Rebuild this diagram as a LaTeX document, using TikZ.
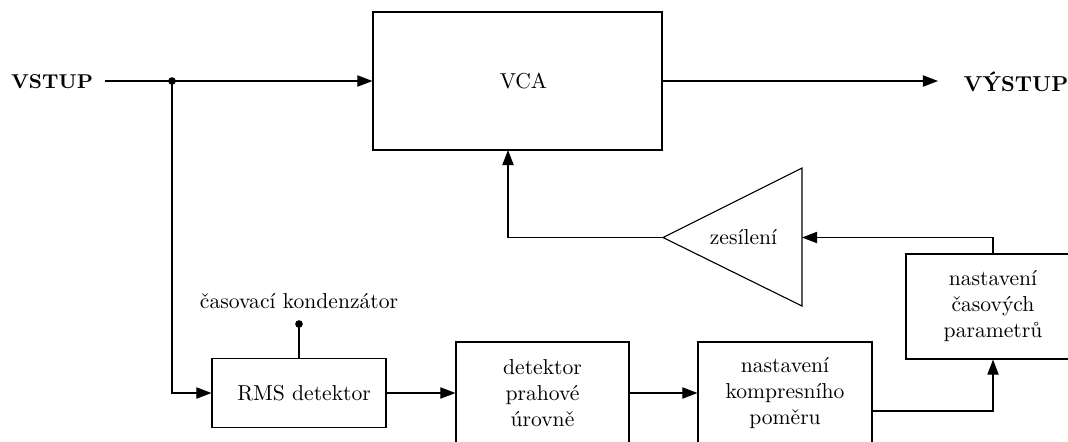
\documentclass[tikz,border=0pt]{standalone}
\usepackage{fontspec}
\usetikzlibrary{arrows.meta,calc}
\def\u{0.4444pt}
\begin{document}
\begin{tikzpicture}[x=0.4444pt,y=-0.4444pt,
  line width=0.5pt,
  font=\fontsize{9.6pt}{11.55pt}\selectfont,
  >={Triangle[length=6.7pt,width=5pt]},
  blk/.style={draw,inner sep=0pt,align=center,minimum width=#1},
  dotc/.style={circle,fill,inner sep=0pt,minimum size=3.4pt},
  txt/.style={inner sep=0pt,align=center}]
\useasboundingbox (0,0) rectangle (1068,441);
% nodes
\node[txt,anchor=west,font=\fontsize{8.9pt}{10pt}\selectfont\bfseries] (in) at (10.5,82) {VSTUP};
\node[txt,anchor=west,font=\fontsize{9.6pt}{11pt}\selectfont\bfseries] (out) at (963,82) {VÝSTUP};
\node[blk={289*\u},minimum height={138*\u}] (vca) at (517.5,81) {\hspace*{5.3pt}VCA};
\node[blk={174*\u},minimum height={69*\u}] (rms) at (299,393) {\hspace*{4.5pt}RMS detektor};
\node[blk={173*\u},minimum height={102*\u}] (det) at (542.5,393) {detektor\\prahové\\úrovně};
\node[blk={174*\u},minimum height={102*\u}] (komp) at (785,393) {nastavení\\kompresního\\poměru};
\node[blk={174*\u},minimum height={105*\u}] (cas) at (993,306.5) {nastavení\\časových\\parametrů};
\node[txt] (zes) at (743.5,237.5) {zesílení};
\node[txt] (caslbl) at (299,301) {časovací kondenzátor};
% amplifier triangle
\coordinate (amptip) at (663,237.5);
\coordinate (ampin) at (802,237.5);
\draw (amptip) -- (802,168) -- (802,306) -- cycle;
% coordinates
\coordinate (inStart) at (105,81);
\coordinate (outEnd) at (938,81);
\coordinate (split) at (172,81);
\coordinate (vcaIn) at (508,150);
\coordinate (kompOut) at (872,411);
\coordinate (capdot) at (299,324);
% connectors
\draw[->] (inStart) -- (vca.west);
\node[dotc] (splitdot) at (split) {};
\draw[->] (split) |- (rms.west);
\draw[->] (vca.east) -- (outEnd);
\draw (rms.north) -- (capdot);
\node[dotc] (capd) at (capdot) {};
\draw[->] (rms.east) -- (det.west);
\draw[->] (det.east) -- (komp.west);
\draw[->] (kompOut) -| (cas.south);
\draw[->] (cas.north) |- (ampin);
\draw[->] (amptip) -| (vcaIn);
\end{tikzpicture}
\end{document}
